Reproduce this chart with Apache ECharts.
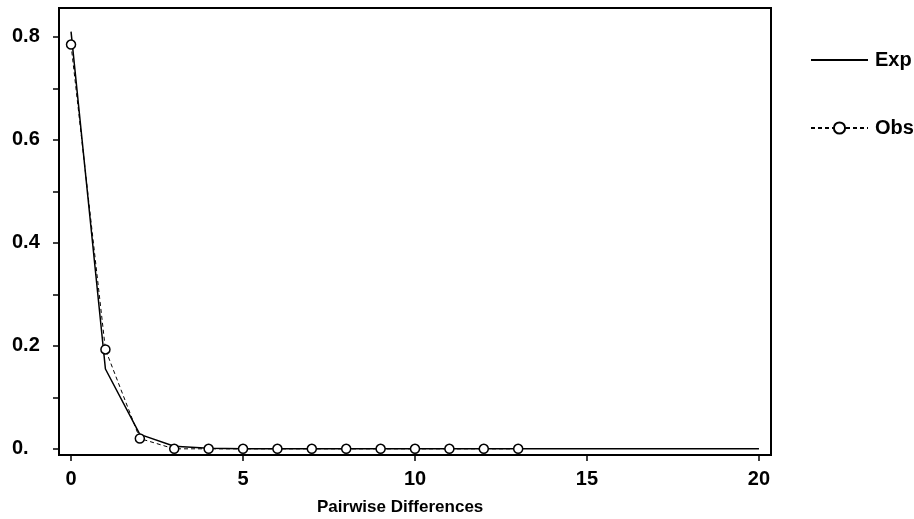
<!DOCTYPE html>
<html>
<head>
<meta charset="utf-8">
<script src="https://cdn.jsdelivr.net/npm/echarts@6/dist/echarts.min.js"></script>
<style>
html,body{margin:0;padding:0;background:#fff;}
#chart{width:914px;height:519px;}
</style>
</head>
<body>
<div id="chart"></div>
<script>
var pairwise = [0,1,2,3,4,5,6,7,8,9,10,11,12,13,14,15,16,17,18,19,20];
var expValues = [0.81,0.155,0.028,0.005,0.001,0,0,0,0,0,0,0,0,0,0,0,0,0,0,0,0];
var obsValues = [0.785,0.193,0.02,0,0,0,0,0,0,0,0,0,0,0];
var xTicks = [0,5,10,15,20];
var yTicks = [0,0.1,0.2,0.3,0.4,0.5,0.6,0.7,0.8];
var yLabelValues = [0,0.2,0.4,0.6,0.8];
var yTickLabels = ['0.','0.2','0.4','0.6','0.8'];
var seriesNames = ['Exp','Obs'];
var xTitle = 'Pairwise Differences';

var font = '"Liberation Sans", Arial, sans-serif';
var chart = echarts.init(document.getElementById('chart'), null, {renderer:'canvas'});
chart.setOption({
  animation:false,
  backgroundColor:'#fff',
  title:{
    text:xTitle, left:317, top:499, padding:0,
    textStyle:{fontFamily:font, fontWeight:'bold', fontSize:17, color:'#000'}
  },
  legend:{
    orient:'vertical', left:805, top:45, itemWidth:57, itemHeight:14, itemGap:48,
    data:[{name:seriesNames[0], itemStyle:{opacity:0}}, {name:seriesNames[1]}],
    textStyle:{fontFamily:font, fontWeight:'bold', fontSize:20, color:'#000', padding:[0,0,0,2]}
  },
  grid:{left:59, top:8, right:143, bottom:64, show:true, borderColor:'#000', borderWidth:2, backgroundColor:'transparent'},
  xAxis:{
    type:'value', min:-0.35, max:20.35,
    axisLine:{show:true, onZero:false, lineStyle:{color:'#000', width:2}},
    axisTick:{show:true, inside:false, length:6, customValues:xTicks, lineStyle:{color:'#000', width:1.5}},
    axisLabel:{show:true, customValues:xTicks, margin:14, fontFamily:font, fontWeight:'bold', fontSize:20, color:'#000'},
    splitLine:{show:false}
  },
  yAxis:{
    type:'value', min:-0.012, max:0.856,
    axisLine:{show:true, onZero:false, lineStyle:{color:'#000', width:2}},
    axisTick:{show:true, inside:false, length:6, customValues:yTicks, lineStyle:{color:'#000', width:1.5}},
    axisLabel:{show:true, customValues:yLabelValues, align:'left', margin:47, fontFamily:font, fontWeight:'bold', fontSize:20, color:'#000',
      formatter:function(v){
        for(var i=0;i<yLabelValues.length;i++){ if(Math.abs(yLabelValues[i]-v)<1e-9) return yTickLabels[i]; }
        return '';
      }},
    splitLine:{show:false}
  },
  series:[
    {
      name:seriesNames[0], type:'line', symbol:'none', showSymbol:false,
      data:pairwise.map(function(x,i){return [x, expValues[i]];}),
      lineStyle:{color:'#000', width:1.5, type:'solid'},
      itemStyle:{color:'#000'}
    },
    {
      name:seriesNames[1], type:'line', symbol:'circle', symbolSize:9, showSymbol:true,
      data:obsValues.map(function(v,i){return [pairwise[i], v];}),
      lineStyle:{color:'#000', width:1, type:[4,3]},
      itemStyle:{color:'#fff', borderColor:'#000', borderWidth:1.5}
    }
  ]
});
</script>
</body>
</html>
